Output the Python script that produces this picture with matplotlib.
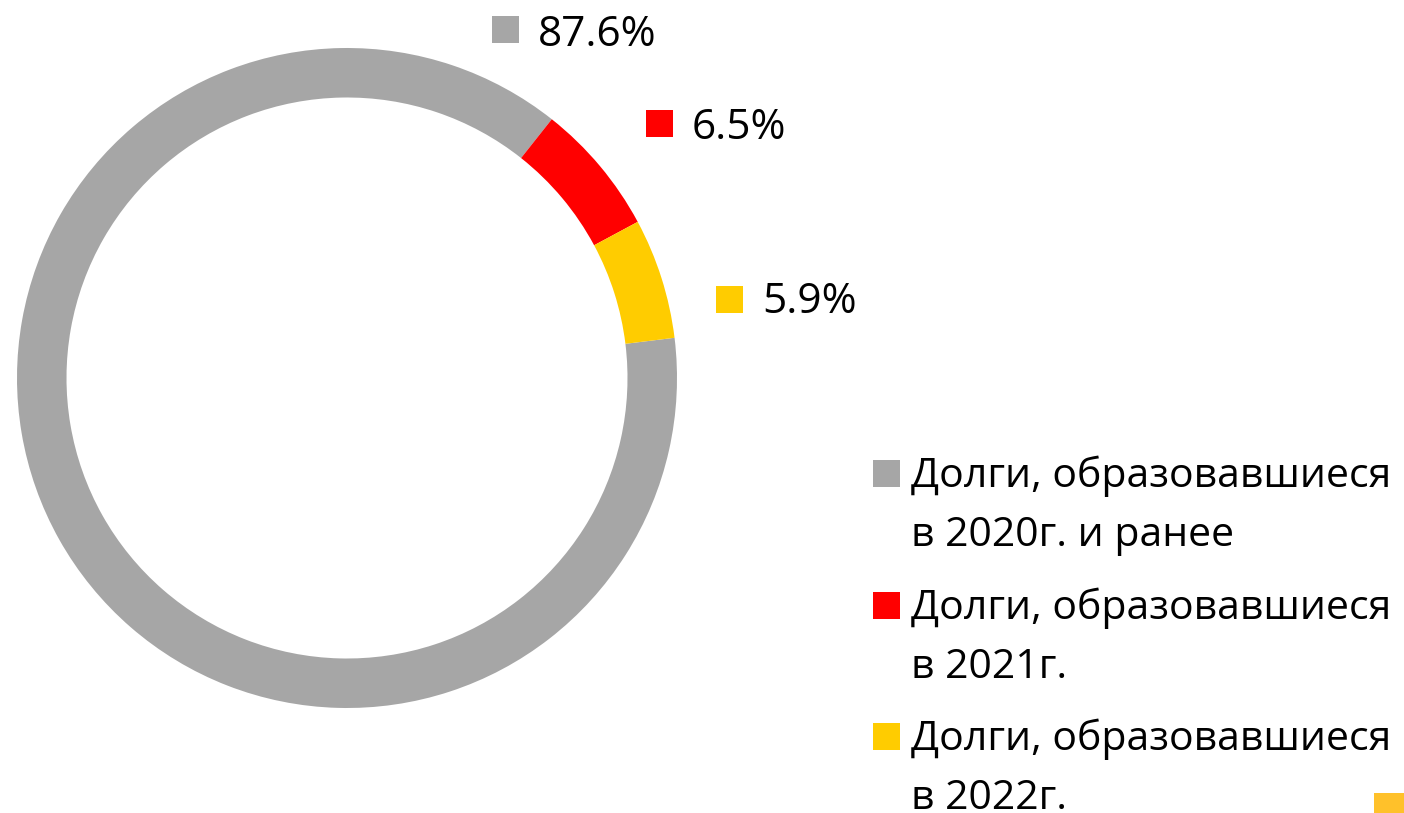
import matplotlib
matplotlib.use("Agg")
import matplotlib.pyplot as plt
from matplotlib.patches import Rectangle

plt.rcParams['font.family'] = ['Open Sans', 'DejaVu Sans']

# data
shares = [87.6, 6.5, 5.9]
share_labels = ["87.6%", "6.5%", "5.9%"]
legend_labels = [
    ["Долги, образовавшиеся", "в 2020г. и ранее"],
    ["Долги, образовавшиеся", "в 2021г."],
    ["Долги, образовавшиеся", "в 2022г."],
]
colors = ["#A6A6A6", "#FF0000", "#FFCC00"]

W, H = 1404, 813
fig = plt.figure(figsize=(W / 100, H / 100), dpi=100)


def fx(px):
    return px / W


def fy(py):
    return 1 - py / H


def square(x, y, size, color):
    # x, y = top-left corner in pixels
    fig.patches.append(Rectangle((fx(x), fy(y + size)), size / W, size / H,
                                 transform=fig.transFigure, color=color, lw=0))


# donut, centre (347, 378) px, outer radius 330 px
cx, cy, r = 347, 378, 330
ax = fig.add_axes([fx(cx - r), fy(cy + r), 2 * r / W, 2 * r / H])
ax.pie(shares, colors=colors, startangle=7, counterclock=False, radius=1,
       wedgeprops=dict(width=0.15, linewidth=0))
ax.set_xlim(-1, 1)
ax.set_ylim(-1, 1)
ax.set_aspect('equal')
ax.axis('off')

# data labels: square + text
label_pos = [(492, 16, 538, 46), (646, 110, 692, 139), (716, 286, 762, 313)]
for (sx, sy, tx, ty), txt, c in zip(label_pos, share_labels, colors):
    square(sx, sy, 27, c)
    fig.text(fx(tx), fy(ty), txt, fontsize=30.5, va='baseline', ha='left')

# legend
leg_base = [487, 619, 750]
for y, lines, c in zip(leg_base, legend_labels, colors):
    square(873, y - 27, 27, c)
    fig.text(fx(911), fy(y), lines[0], fontsize=29.5, va='baseline', ha='left')
    fig.text(fx(911), fy(y + 59), lines[1], fontsize=29.5, va='baseline', ha='left')

# stray small marker in the corner
fig.patches.append(Rectangle((fx(1374), 0), 30 / W, 20 / H,
                             transform=fig.transFigure, color="#FFC12A", lw=0))

fig.savefig("out.png", dpi=100)
